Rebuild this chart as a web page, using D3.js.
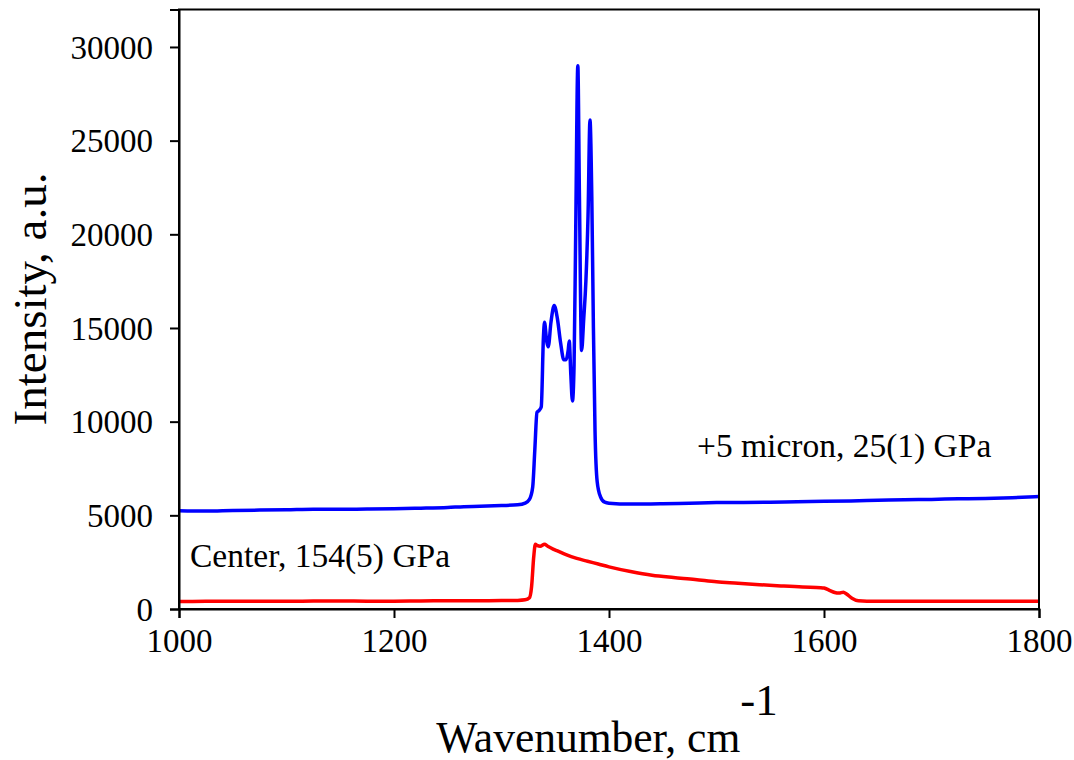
<!DOCTYPE html>
<html>
<head>
<meta charset="utf-8">
<script src="https://cdn.jsdelivr.net/npm/d3@7"></script>
<style>
  html, body { margin: 0; padding: 0; background: #fff; }
  svg text { font-family: "Liberation Serif", "Times New Roman", serif; fill: #000; }
</style>
</head>
<body>
<svg id="chart" width="1074" height="760"></svg>
<script>
// ---- Data ----
const xTicks = [1000, 1200, 1400, 1600, 1800];
const yTicks = [0, 5000, 10000, 15000, 20000, 25000, 30000];

const blueWavenumber = [1000, 1025, 1050, 1075, 1100, 1125, 1150, 1175, 1200, 1225, 1250, 1265, 1280, 1300, 1315, 1322, 1326, 1329, 1331, 1333, 1335, 1337, 1339, 1340, 1342, 1343.5, 1346, 1349, 1352, 1355, 1358, 1360, 1362, 1363, 1364.5, 1366, 1367.5, 1369, 1371, 1372.5, 1374.5, 1376.5, 1378.5, 1380.5, 1382.3, 1384, 1385.5, 1387, 1389, 1392, 1396, 1400, 1420, 1450, 1475, 1500, 1525, 1550, 1575, 1600, 1625, 1650, 1675, 1700, 1725, 1750, 1775, 1800];
const blueIntensity  = [5250, 5230, 5260, 5280, 5300, 5330, 5320, 5340, 5350, 5380, 5420, 5460, 5480, 5520, 5560, 5650, 5850, 6500, 8500, 10500, 10600, 10800, 14500, 15300, 14300, 14000, 15300, 16200, 15500, 14200, 13300, 13300, 13800, 14300, 12500, 11100, 13000, 20000, 29000, 22000, 13800, 15500, 17500, 21000, 26100, 22000, 15000, 9500, 6800, 6000, 5700, 5650, 5600, 5620, 5650, 5680, 5690, 5700, 5730, 5750, 5770, 5800, 5830, 5850, 5880, 5900, 5940, 6000];

const redWavenumber = [1000, 1025, 1050, 1075, 1100, 1125, 1150, 1175, 1200, 1225, 1250, 1275, 1300, 1315, 1322, 1326, 1328, 1330, 1331.5, 1333, 1336, 1340, 1343, 1348, 1352, 1360, 1370, 1380, 1390, 1400, 1420, 1440, 1460, 1480, 1500, 1520, 1540, 1560, 1580, 1597, 1600, 1605, 1610, 1614, 1618, 1621, 1626, 1632, 1640, 1675, 1700, 1750, 1800];
const redIntensity  = [400, 410, 420, 415, 410, 425, 430, 420, 420, 430, 440, 445, 450, 460, 490, 600, 1200, 2800, 3450, 3400, 3350, 3450, 3350, 3200, 3100, 2900, 2700, 2550, 2400, 2250, 2000, 1800, 1680, 1580, 1450, 1380, 1300, 1230, 1170, 1140, 1120, 1000, 880, 850, 900, 800, 580, 440, 420, 420, 420, 410, 420];

const seriesLabels = ["+5 micron, 25(1) GPa", "Center, 154(5) GPa"];
const xTitle = "Wavenumber, cm";
const xTitleSup = "-1";
const yTitle = "Intensity, a.u.";

// ---- Layout ----
const svg = d3.select("#chart");
const mLeft = 179, mRight = 1039, mTop = 9.5, mBottom = 609;

const x = d3.scaleLinear().domain([1000, 1800]).range([mLeft, mRight]);
const y = d3.scaleLinear().domain([0, 32000]).range([mBottom, mTop]);

// Series lines
const line = d3.line().x(d => x(d[0])).y(d => y(d[1])).curve(d3.curveMonotoneX);

svg.append("path")
  .datum(blueWavenumber.map((w, i) => [w, blueIntensity[i]]))
  .attr("d", line)
  .attr("fill", "none")
  .attr("stroke", "#0000ff")
  .attr("stroke-width", 3.5)
  .attr("stroke-linejoin", "round");

svg.append("path")
  .datum(redWavenumber.map((w, i) => [w, redIntensity[i]]))
  .attr("d", line)
  .attr("fill", "none")
  .attr("stroke", "#ff0000")
  .attr("stroke-width", 3.5)
  .attr("stroke-linejoin", "round");

// Frame
svg.append("rect")
  .attr("x", mLeft).attr("y", mTop)
  .attr("width", mRight - mLeft).attr("height", mBottom - mTop)
  .attr("fill", "none").attr("stroke", "#000").attr("stroke-width", 2);

// Axes
const xAxis = d3.axisBottom(x).tickValues(xTicks).tickSize(9).tickPadding(10).tickFormat(d3.format("d"));
const gx = svg.append("g").attr("transform", `translate(0,${mBottom})`).call(xAxis);
gx.select(".domain").attr("stroke-width", 2);
gx.selectAll(".tick line").attr("stroke-width", 2);
gx.selectAll(".tick text").attr("font-size", 33).attr("font-family", "Liberation Serif, Times New Roman, serif").attr("dy", "0.72em");

const yAxis = d3.axisLeft(y).tickValues(yTicks).tickSize(9).tickPadding(17).tickFormat(d3.format("d"));
const gy = svg.append("g").attr("transform", `translate(${mLeft},0)`).call(yAxis);
gy.select(".domain").attr("stroke-width", 2);
gy.selectAll(".tick line").attr("stroke-width", 2);
gy.selectAll(".tick text").attr("font-size", 33).attr("font-family", "Liberation Serif, Times New Roman, serif").attr("dy", "0.34em");

// Series labels
svg.append("text").attr("x", 697).attr("y", 457).attr("font-size", 33.5).text(seriesLabels[0]);
svg.append("text").attr("x", 190).attr("y", 567).attr("font-size", 33.5).text(seriesLabels[1]);

// Axis titles
const xt = svg.append("text").attr("x", 607).attr("y", 752).attr("text-anchor", "middle").attr("font-size", 43.5);
xt.append("tspan").text(xTitle);
xt.append("tspan").attr("dy", -37).attr("font-size", 45).text(xTitleSup);

svg.append("text")
  .attr("transform", "translate(46,299) rotate(-90)")
  .attr("text-anchor", "middle")
  .attr("font-size", 47)
  .text(yTitle);
</script>
</body>
</html>
